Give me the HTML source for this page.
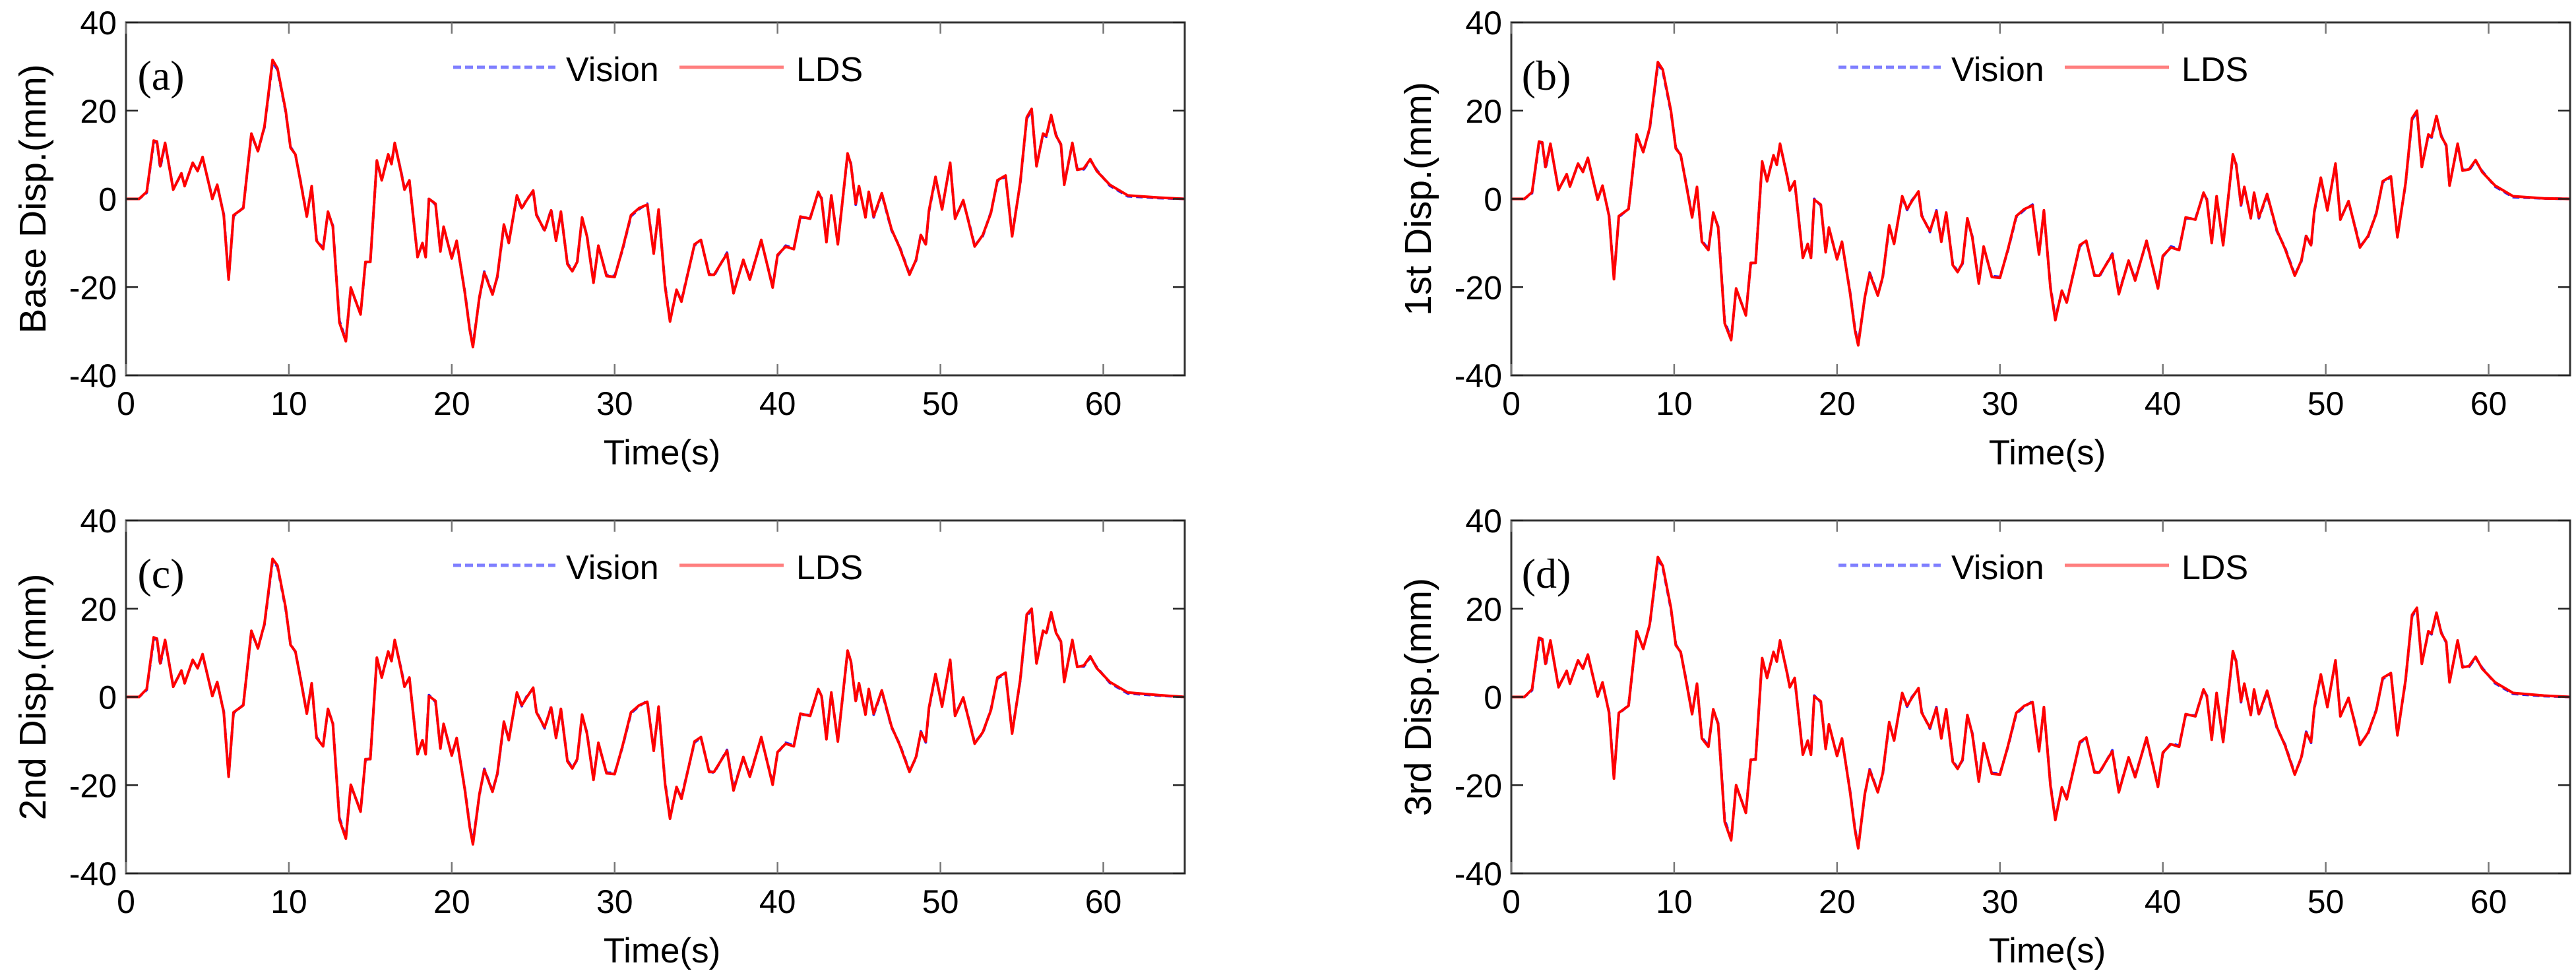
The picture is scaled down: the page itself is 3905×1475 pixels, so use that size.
<!DOCTYPE html>
<html><head><meta charset="utf-8">
<style>
html,body{margin:0;padding:0;background:#fff;width:3905px;height:1475px;overflow:hidden}
svg{display:block}
text{font-family:"Liberation Sans",Arial,sans-serif;fill:#000}
</style></head>
<body>
<svg id="fig" width="3905" height="1475" xmlns="http://www.w3.org/2000/svg"></svg>
<script>
const times=[0,0.8,1.27,1.7,1.9,2.1,2.4,2.9,3.4,3.6,4.1,4.4,4.7,5.3,5.6,6.0,6.3,6.6,7.2,7.7,8.1,8.5,9.0,9.3,9.8,10.1,10.4,10.7,11.1,11.4,11.7,12.1,12.4,12.7,13.1,13.5,13.8,14.4,14.7,15.0,15.4,15.7,16.1,16.3,16.5,16.9,17.1,17.4,17.9,18.2,18.4,18.6,19.0,19.3,19.5,20.0,20.3,20.8,21.1,21.3,21.7,22.0,22.5,22.8,23.2,23.5,24.0,24.3,24.6,25.0,25.2,25.7,26.1,26.4,26.7,27.1,27.4,27.7,28.0,28.3,28.7,29.0,29.5,30.0,30.5,31.0,31.5,32.0,32.4,32.7,33.1,33.4,33.8,34.1,34.9,35.3,35.8,36.1,36.9,37.3,37.9,38.3,39.0,39.7,40.0,40.5,41.0,41.4,42.0,42.5,42.7,43.0,43.3,43.7,44.3,44.5,44.8,45.0,45.4,45.6,45.9,46.4,47.0,47.5,48.1,48.5,48.8,49.1,49.3,49.7,50.1,50.6,50.9,51.4,51.8,52.1,52.6,53.1,53.5,54.0,54.4,54.9,55.3,55.6,55.9,56.3,56.5,56.8,57.1,57.4,57.6,58.1,58.4,58.8,59.2,59.6,60.4,61.5,63.4,65.0];
const ldsA=[0,0,1.6,13.2,13,7.4,12.7,2.1,5.8,2.9,8.2,6.3,9.5,0,3.2,-3.7,-18.3,-3.7,-2.1,14.8,10.8,16.4,31.5,29.6,20.1,11.6,10.1,4.2,-4,2.9,-9.5,-11.4,-2.9,-6.3,-28,-32.3,-20.1,-26.2,-14.3,-14.3,8.7,4.2,10.1,7.9,12.7,5.8,2.1,4.2,-13.2,-10,-13.2,0,-1.1,-11.9,-6.3,-13.5,-9.5,-21.2,-29.6,-33.6,-22.2,-16.7,-21.7,-17.5,-5.8,-10,0.8,-2.1,-0.3,1.9,-3.7,-7.1,-2.6,-9.5,-2.9,-14.8,-16.4,-14.3,-4.2,-8.5,-19,-10.6,-17.5,-17.7,-11.1,-3.7,-2.1,-1.3,-12.4,-2.4,-20,-27.8,-20.6,-23.3,-10.3,-9.3,-17.2,-17.2,-12.4,-21.4,-13.8,-18.3,-9.3,-20.1,-12.7,-10.8,-11.4,-4,-4.5,1.6,0,-9.8,0.8,-10.3,10.3,7.9,-1.1,2.9,-4.2,1.6,-4,1.3,-6.9,-11.1,-17.2,-13.8,-8.2,-10.3,-2.6,5,-2.4,8.2,-4.5,-0.3,-6.3,-10.8,-8.2,-3.2,4.2,5.3,-8.5,3.7,18.5,20.4,7.4,14.8,14.3,19,14.3,12.4,3.2,12.7,6.6,6.9,9,6.3,3.2,0.8,0.3,0];
const visA=[0,0,1.4,12.8,13,7.0,12.5,2.3,5.6,3.1,8.0,6.5,9.3,0.2,3.0,-3.5,-18.0,-3.9,-2.0,14.5,10.9,16.2,31.0,29.3,19.8,11.8,10.0,4.4,-3.8,2.7,-9.3,-11.2,-3.1,-6.1,-27.6,-32.0,-20.3,-26.0,-14.5,-14.1,8.5,4.4,9.9,8.1,12.5,6.0,2.3,4.0,-13.0,-10.2,-13.0,0.2,-1.3,-11.7,-6.5,-13.3,-9.7,-21.0,-29.3,-33.2,-22.4,-16.5,-21.5,-17.7,-6.0,-9.8,0.6,-2.3,-0.1,1.7,-3.5,-7.3,-2.4,-9.3,-3.1,-14.6,-16.2,-14.5,-4.4,-8.3,-18.7,-10.8,-17.3,-17.5,-11.3,-3.9,-2.3,-1.1,-12.2,-2.6,-19.7,-27.4,-20.8,-23.0,-10.5,-9.5,-17.0,-17.4,-12.2,-21.0,-14.0,-18.0,-9.5,-19.8,-12.9,-10.6,-11.2,-4.2,-4.3,1.4,0.2,-9.5,0.6,-10.0,10.0,8.1,-1.3,2.7,-4.0,1.4,-4.2,1.1,-7.1,-10.9,-17.0,-14.0,-8.0,-10.5,-2.8,4.8,-2.2,8.0,-4.3,-0.5,-6.1,-10.6,-8.4,-3.0,4.0,5.1,-8.2,3.5,18.2,20.1,7.6,14.6,14.1,18.7,14.5,12.2,3.4,12.5,6.8,6.7,8.8,6.5,3.0,0.6,0.2,0];
const ldsB=[0,0,1.5,13.0,12.8,7.2,12.5,2.0,5.6,2.8,8.0,6.1,9.3,-0.2,3.0,-3.9,-18.2,-3.9,-2.3,14.6,10.6,16.2,31.0,29.3,20.0,11.4,10.0,4.0,-4.2,2.7,-9.7,-11.6,-3.1,-6.5,-28.2,-32.0,-20.3,-26.4,-14.5,-14.5,8.5,4.0,9.9,7.7,12.5,5.6,1.9,4.0,-13.4,-10.2,-13.4,-0.2,-1.3,-12.1,-6.5,-13.7,-9.7,-21.4,-29.8,-33.2,-22.4,-16.9,-21.9,-17.7,-6.0,-10.2,0.6,-2.3,-0.5,1.7,-3.9,-7.3,-2.8,-9.7,-3.1,-15.0,-16.6,-14.5,-4.4,-8.7,-19.2,-10.8,-17.7,-17.9,-11.3,-3.9,-2.3,-1.5,-12.6,-2.6,-20.2,-27.5,-20.8,-23.5,-10.5,-9.5,-17.4,-17.4,-12.6,-21.6,-14.0,-18.5,-9.5,-20.3,-12.9,-11.0,-11.6,-4.2,-4.7,1.4,-0.2,-10.0,0.6,-10.5,10.1,7.7,-1.3,2.7,-4.4,1.4,-4.2,1.1,-7.1,-11.3,-17.4,-14.0,-8.4,-10.5,-2.8,4.8,-2.6,8.0,-4.7,-0.5,-6.5,-11.0,-8.4,-3.4,4.0,5.1,-8.7,3.5,18.3,20.0,7.2,14.6,14.1,18.8,14.1,12.2,3.0,12.5,6.4,6.7,8.8,6.1,3.0,0.6,0.1,0];
const visB=[0,0,1.3,12.6,12.8,6.8,12.3,2.2,5.4,3.0,7.8,6.3,9.1,0,2.8,-3.7,-17.9,-4.1,-2.2,14.3,10.7,16.0,30.5,29.0,19.7,11.6,9.9,4.2,-4.0,2.5,-9.5,-11.4,-3.3,-6.3,-27.8,-31.7,-20.5,-26.2,-14.7,-14.3,8.3,4.2,9.7,7.9,12.3,5.8,2.1,3.8,-13.2,-10.4,-13.2,0,-1.5,-11.9,-6.7,-13.5,-9.9,-21.2,-29.5,-32.8,-22.6,-16.7,-21.7,-17.9,-6.2,-10.0,0.4,-2.5,-0.3,1.5,-3.7,-7.5,-2.6,-9.5,-3.3,-14.8,-16.4,-14.7,-4.6,-8.5,-18.9,-11.0,-17.5,-17.7,-11.5,-4.1,-2.5,-1.3,-12.4,-2.8,-19.9,-27.1,-21.0,-23.2,-10.7,-9.7,-17.2,-17.6,-12.4,-21.2,-14.2,-18.2,-9.7,-20.0,-13.1,-10.8,-11.4,-4.4,-4.5,1.2,0,-9.7,0.4,-10.2,9.8,7.9,-1.5,2.5,-4.2,1.2,-4.4,0.9,-7.3,-11.1,-17.2,-14.2,-8.2,-10.7,-3.0,4.6,-2.4,7.8,-4.5,-0.7,-6.3,-10.8,-8.6,-3.2,3.8,4.9,-8.4,3.3,18.0,19.7,7.4,14.4,13.9,18.5,14.3,12.0,3.2,12.3,6.6,6.5,8.6,6.3,2.8,0.4,0.1,0];
const ldsC=[0,0,1.8,13.5,13.2,7.6,12.9,2.3,6.0,3.1,8.4,6.5,9.7,0.2,3.4,-3.5,-18.1,-3.5,-1.9,15.0,11.0,16.6,31.3,29.8,20.3,11.8,10.3,4.4,-3.8,3.1,-9.3,-11.2,-2.7,-6.1,-27.8,-32.1,-19.9,-26.0,-14.1,-14.1,8.9,4.4,10.3,8.1,12.9,6.0,2.3,4.4,-13.0,-9.8,-13.0,0.2,-0.9,-11.7,-6.1,-13.3,-9.3,-21.0,-29.4,-33.4,-22.0,-16.5,-21.5,-17.3,-5.6,-9.8,1.0,-1.9,-0.1,2.1,-3.5,-6.9,-2.4,-9.3,-2.7,-14.6,-16.2,-14.1,-4.0,-8.3,-18.8,-10.4,-17.3,-17.5,-10.9,-3.5,-1.9,-1.1,-12.2,-2.2,-19.8,-27.6,-20.4,-23.1,-10.1,-9.1,-17.0,-17.0,-12.2,-21.2,-13.6,-18.1,-9.1,-19.9,-12.5,-10.6,-11.2,-3.8,-4.3,1.8,0.2,-9.6,1.0,-10.1,10.5,8.1,-0.9,3.1,-4.0,1.8,-3.8,1.5,-6.7,-10.9,-17.0,-13.6,-8.0,-10.1,-2.4,5.2,-2.2,8.4,-4.3,-0.1,-6.1,-10.6,-8.0,-3.0,4.4,5.5,-8.3,3.9,18.7,20.0,7.6,15.0,14.5,19.2,14.5,12.6,3.4,12.9,6.8,7.1,9.2,6.5,3.4,1.0,0.4,0];
const visC=[0,0,1.6,13.0,13.2,7.2,12.7,2.5,5.8,3.3,8.2,6.7,9.5,0.4,3.2,-3.3,-17.8,-3.7,-1.8,14.7,11.1,16.4,30.8,29.5,20.0,12.0,10.2,4.6,-3.6,2.9,-9.1,-11.0,-2.9,-5.9,-27.4,-31.8,-20.1,-25.8,-14.3,-13.9,8.7,4.6,10.1,8.3,12.7,6.2,2.5,4.2,-12.8,-10.0,-12.8,0.4,-1.1,-11.5,-6.3,-13.1,-9.5,-20.8,-29.1,-33.0,-22.2,-16.3,-21.3,-17.5,-5.8,-9.6,0.8,-2.1,0.1,1.9,-3.3,-7.1,-2.2,-9.1,-2.9,-14.4,-16.0,-14.3,-4.2,-8.1,-18.5,-10.6,-17.1,-17.3,-11.1,-3.7,-2.1,-0.9,-12.0,-2.4,-19.5,-27.2,-20.6,-22.8,-10.3,-9.3,-16.8,-17.2,-12.0,-20.8,-13.8,-17.8,-9.3,-19.6,-12.7,-10.4,-11.0,-4.0,-4.1,1.6,0.4,-9.3,0.8,-9.8,10.2,8.3,-1.1,2.9,-3.8,1.6,-4.0,1.3,-6.9,-10.7,-16.8,-13.8,-7.8,-10.3,-2.6,5.0,-2.0,8.2,-4.1,-0.3,-5.9,-10.4,-8.2,-2.8,4.2,5.3,-8.0,3.7,18.4,19.7,7.8,14.8,14.3,18.9,14.7,12.4,3.6,12.7,7.0,6.9,9.0,6.7,3.2,0.8,0.3,0];
const ldsD=[0,0,1.7,13.4,13.1,7.5,12.8,2.2,5.9,3.0,8.3,6.4,9.6,0.1,3.3,-3.6,-18.5,-3.6,-2.0,14.9,10.9,16.5,31.7,29.7,20.2,11.7,10.2,4.3,-3.9,3.0,-9.4,-11.3,-2.8,-6.2,-28.3,-32.5,-20.0,-26.3,-14.2,-14.2,8.8,4.3,10.2,8.0,12.8,5.9,2.2,4.3,-13.1,-9.9,-13.1,0.1,-1.0,-11.8,-6.2,-13.4,-9.4,-21.6,-30.2,-34.3,-22.1,-16.6,-21.6,-17.4,-5.7,-9.9,0.9,-2.0,-0.2,2.0,-3.6,-7.0,-2.5,-9.4,-2.8,-14.7,-16.3,-14.2,-4.1,-8.4,-19.2,-10.5,-17.4,-17.6,-11.0,-3.6,-2.0,-1.2,-12.3,-2.3,-20.1,-27.9,-20.5,-23.2,-10.2,-9.2,-17.1,-17.1,-12.3,-21.6,-13.7,-18.2,-9.2,-20.4,-12.6,-10.7,-11.3,-3.9,-4.4,1.7,0.1,-9.7,0.9,-10.2,10.4,8.0,-1.0,3.0,-4.1,1.7,-3.9,1.4,-6.8,-11.0,-17.6,-13.7,-8.1,-10.2,-2.5,5.1,-2.3,8.3,-4.4,-0.2,-6.2,-10.9,-8.1,-3.1,4.3,5.4,-8.7,3.8,18.6,20.2,7.5,14.9,14.4,19.1,14.4,12.5,3.3,12.8,6.7,7.0,9.1,6.4,3.3,0.9,0.3,0];
const visD=[0,0,1.5,12.9,13.1,7.1,12.6,2.4,5.7,3.2,8.1,6.6,9.4,0.3,3.1,-3.4,-18.2,-3.8,-1.9,14.6,11.0,16.3,31.2,29.4,19.9,11.9,10.1,4.5,-3.7,2.8,-9.2,-11.1,-3.0,-6.0,-27.9,-32.2,-20.2,-26.1,-14.4,-14.0,8.6,4.5,10.0,8.2,12.6,6.1,2.4,4.1,-12.9,-10.1,-12.9,0.3,-1.2,-11.6,-6.4,-13.2,-9.6,-21.4,-29.9,-33.9,-22.3,-16.4,-21.4,-17.6,-5.9,-9.7,0.7,-2.2,0,1.8,-3.4,-7.2,-2.3,-9.2,-3.0,-14.5,-16.1,-14.4,-4.3,-8.2,-18.9,-10.7,-17.2,-17.4,-11.2,-3.8,-2.2,-1.0,-12.1,-2.5,-19.8,-27.5,-20.7,-22.9,-10.4,-9.4,-16.9,-17.3,-12.1,-21.2,-13.9,-17.9,-9.4,-20.1,-12.8,-10.5,-11.1,-4.1,-4.2,1.5,0.3,-9.4,0.7,-9.9,10.1,8.2,-1.2,2.8,-3.9,1.5,-4.1,1.2,-7.0,-10.8,-17.4,-13.9,-7.9,-10.4,-2.7,4.9,-2.1,8.1,-4.2,-0.4,-6.0,-10.7,-8.3,-2.9,4.1,5.2,-8.4,3.6,18.3,19.9,7.7,14.7,14.2,18.8,14.6,12.3,3.5,12.6,6.9,6.8,8.9,6.6,3.1,0.7,0.2,0];
const xTicks=[0,10,20,30,40,50,60];
const yTicks=[-40,-20,0,20,40];
const panelLetters=["(a)","(b)","(c)","(d)"];
const yTitles=["Base Disp.(mm)","1st Disp.(mm)","2nd Disp.(mm)","3rd Disp.(mm)"];
const ldsSeries=[ldsA,ldsB,ldsC,ldsD];
const visSeries=[visA,visB,visC,visD];

const NS="http://www.w3.org/2000/svg";
const svg=document.getElementById('fig');
function mk(tag,attrs,parent){const e=document.createElementNS(NS,tag);for(const k in attrs)e.setAttribute(k,attrs[k]);(parent||svg).appendChild(e);return e;}
const origins=[[191,34],[2291,34],[191,789],[2291,789]];
const W=1605,H=535;
for(let p=0;p<4;p++){
  const ox=origins[p][0],oy=origins[p][1];
  const g=mk('g',{});
  
  
  const sx=t=>ox+t/65*W;
  const sy=v=>oy+(40-v)/80*H;
  // data lines
  const n=Math.min(times.length,ldsSeries[p].length,visSeries[p].length);
  let dv='',dl='';
  for(let i=0;i<n;i++){dv+=(i?'L':'M')+sx(times[i]).toFixed(1)+' '+sy(visSeries[p][i]).toFixed(1);dl+=(i?'L':'M')+sx(times[i]).toFixed(1)+' '+sy(ldsSeries[p][i]).toFixed(1);}
  const vl=mk('path',{d:dv,fill:'none',stroke:'#2020ff','stroke-width':4,'stroke-dasharray':'10 6','stroke-linejoin':'round'},g);
  
  
  const ll=mk('path',{d:dl,fill:'none',stroke:'#ff0000','stroke-width':4,'stroke-linejoin':'round'},g);
  
  
  // axes box
  const box=mk('rect',{x:ox,y:oy,width:W,height:H,fill:'none',stroke:'#333','stroke-width':3},g);
  
  
  xTicks.forEach(t=>{
    const x=sx(t);
    mk('line',{x1:x,y1:oy+H,x2:x,y2:oy+H-17,stroke:'#777','stroke-width':2.5},g);
    mk('line',{x1:x,y1:oy,x2:x,y2:oy+17,stroke:'#777','stroke-width':2.5},g);
    const tl=mk('text',{x:x,y:oy+H+60,'font-size':50,'text-anchor':'middle'},g);
    tl.textContent=t;
    
    
  });
  yTicks.forEach(v=>{
    const y=sy(v);
    mk('line',{x1:ox,y1:y,x2:ox+18,y2:y,stroke:'#222','stroke-width':2.5},g);
    mk('line',{x1:ox+W,y1:y,x2:ox+W-18,y2:y,stroke:'#222','stroke-width':2.5},g);
    const tl=mk('text',{x:ox-14,y:y+18,'font-size':50,'text-anchor':'end'},g);
    tl.textContent=v;
    
    
  });
  const xt=mk('text',{x:ox+W/2+10,y:oy+H+135,'font-size':53,'text-anchor':'middle'},g);
  xt.textContent='Time(s)';
  
  
  const yt=mk('text',{x:0,y:0,'font-size':57,'text-anchor':'middle',transform:'translate('+(ox-122)+','+(oy+H/2)+') rotate(-90)'},g);
  yt.textContent=yTitles[p];
  
  
  const lt=mk('text',{x:ox+53,y:oy+102,'font-size':64,'text-anchor':'middle',style:'font-family:"Liberation Serif",serif'},g);
  lt.textContent=panelLetters[p];
  
  
  // legend
  const lg=mk('g',{},g);
  
  
  mk('line',{x1:ox+496,y1:oy+68,x2:ox+651,y2:oy+68,stroke:'#7f7fff','stroke-width':5,'stroke-dasharray':'12 6'},lg);
  const t1=mk('text',{x:ox+667,y:oy+89,'font-size':52},lg);
  t1.textContent='Vision';
  
  
  mk('line',{x1:ox+839,y1:oy+68,x2:ox+997,y2:oy+68,stroke:'#ff7f7f','stroke-width':5},lg);
  const t2=mk('text',{x:ox+1016,y:oy+89,'font-size':52},lg);
  t2.textContent='LDS';
  
  
}
</script>
</body></html>
